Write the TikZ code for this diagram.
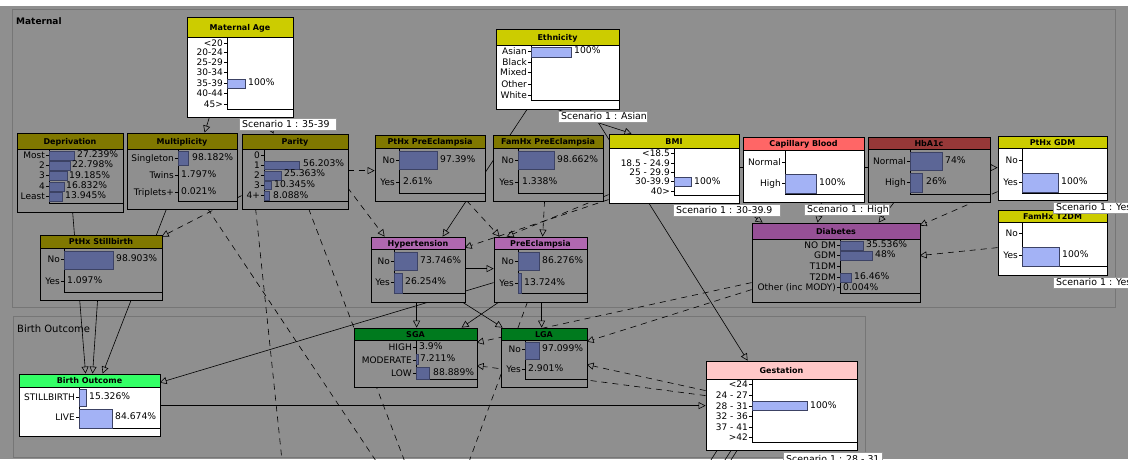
\documentclass[tikz,border=0pt]{standalone}
\usepackage{fontspec}
\setmainfont{DejaVu Sans}
\usetikzlibrary{arrows.meta,fit}
\definecolor{bg}{RGB}{143,143,143}
\definecolor{pnl}{RGB}{118,118,118}
\definecolor{cy}{RGB}{204,204,0}
\definecolor{col}{RGB}{128,120,0}
\definecolor{ccap}{RGB}{255,102,102}
\definecolor{chba}{RGB}{150,56,56}
\definecolor{cdia}{RGB}{150,80,150}
\definecolor{chyp}{RGB}{176,104,176}
\definecolor{cdg}{RGB}{0,122,30}
\definecolor{cbo}{RGB}{51,255,102}
\definecolor{cgest}{RGB}{255,200,200}
\definecolor{dbar}{RGB}{92,102,150}
\definecolor{lbar}{RGB}{163,178,245}
\definecolor{barln}{RGB}{60,66,100}
\newcounter{nn}
\pgfdeclarelayer{bglayer}
\pgfdeclarelayer{edgelayer}
\pgfsetlayers{bglayer,edgelayer,main}
% chart node: name, x1, y1, x2, y2, title bottom, title colour, body colour, title
\newcommand\bnchart[9]{%
  \node[fit={(#2,#3) (#4,#5)}, inner sep=0pt, draw=black, line width=0.8pt, fill=#8] (#1) {};
  \filldraw[fill=#7, draw=black, line width=0.8pt] (#2,#3) rectangle (#4,#6);
  \node[ttl] (#1-title) at ({(#2+#4)/2},{(#3+#6)/2+3}) {#9};}
\newcommand\bnaxis[4]{\draw[line width=0.8pt] (#1,#2) -- (#1,#3) -- (#4,#3);}
\newcommand\bnst[3]{\draw[line width=0.6pt] ({#1-3},#2) -- (#1,#2);%
  \stepcounter{nn}\node[stf] (s\thenn) at ({#1-4},{#2+3.2}) {#3};}
\newcommand\bnbar[5]{\filldraw[fill=#5, draw=barln, line width=0.5pt] (#1,#2) rectangle (#3,#4);}
\newcommand\bnpc[3]{\stepcounter{nn}\node[pcf] (p\thenn) at (#1,{#2+3.2}) {#3};}
\newcommand\bnscen[6]{%
  \node[fit={(#2,#3) (#4,#5)}, inner sep=0pt, draw=black!40, fill=white, line width=0.5pt] (#1) {};
  \node[scf] (#1-t) at ({#2+3},{(#3+#5)/2+3.3}) {#6};}
\newcommand\bnp[3]{([shift={(#2,#3)}]#1.north west)}
\begin{document}
\begin{tikzpicture}[x=1pt,y=-1pt,
  ttl/.style={font=\fontsize{8}{9}\selectfont\bfseries, inner sep=0pt, anchor=base},
  stf/.style={font=\fontsize{9}{10}\selectfont, inner sep=0pt, anchor=base east},
  pcf/.style={font=\fontsize{9.2}{10}\selectfont, inner sep=0pt, anchor=base west},
  scf/.style={font=\fontsize{9.4}{10}\selectfont, inner sep=0pt, anchor=base west},
  arr/.style={-{Triangle[open,length=7pt,width=7pt]}, line width=0.6pt, black},
  darr/.style={arr, dash pattern=on 6pt off 5pt},
  dln/.style={line width=0.6pt, dash pattern=on 6pt off 5pt},
  ln/.style={line width=0.6pt}]
\path[use as bounding box] (0,0) rectangle (1128,459);
\begin{pgfonlayer}{bglayer}
\fill[white] (0,0) rectangle (1128,459);
\fill[bg] (0,6) rectangle (1128,459);
\draw[pnl, line width=0.8pt] (12,9) rectangle (1115,307);
\draw[pnl, line width=0.8pt] (13,316) rectangle (865,457);
\end{pgfonlayer}
\node[anchor=base west, inner sep=0pt, font=\fontsize{9}{10}\selectfont\bfseries] (lblmat) at (16,24.5) {Maternal};
\node[anchor=base west, inner sep=0pt, font=\fontsize{10}{11}\selectfont] (lblbo) at (17,332) {Birth Outcome};

% Maternal Age
\bnchart{ma}{187}{17}{293}{117}{37}{cy}{white}{Maternal Age}
\bnaxis{227}{37}{109}{293}
\bnst{227}{43}{<20}\bnst{227}{52}{20-24}\bnst{227}{62}{25-29}\bnst{227}{72}{30-34}
\bnst{227}{83}{35-39}\bnst{227}{93}{40-44}\bnst{227}{104}{45>}
\bnbar{227}{79}{245}{88}{lbar}
\bnpc{248}{82}{100\%}

% Deprivation
\bnchart{dep}{17}{133}{123}{212}{149}{col}{bg}{Deprivation}
\bnaxis{49}{149}{203}{123}
\bnst{49}{155}{Most}\bnst{49}{165}{2}\bnst{49}{175}{3}\bnst{49}{186}{4}\bnst{49}{196}{Least}
\bnbar{49}{151}{74}{160}{dbar}\bnbar{49}{161}{70}{170}{dbar}\bnbar{49}{171}{67}{180}{dbar}
\bnbar{49}{182}{64}{191}{dbar}\bnbar{49}{192}{62}{201}{dbar}
\bnpc{77}{154}{27.239\%}\bnpc{72}{164}{22.798\%}\bnpc{69}{175}{19.185\%}
\bnpc{66}{185}{16.832\%}\bnpc{65}{195}{13.945\%}

% Multiplicity
\bnchart{mult}{127}{133}{237}{209}{149}{col}{bg}{Multiplicity}
\bnaxis{178}{149}{201}{237}
\bnst{178}{158}{Singleton}\bnst{178}{175}{Twins}\bnst{178}{192}{Triplets+}
\bnbar{178}{151}{188}{165}{dbar}
\bnpc{192}{157}{98.182\%}\bnpc{181}{174}{1.797\%}\bnpc{181}{191}{0.021\%}

% Parity
\bnchart{par}{242}{134}{348}{209}{149}{col}{bg}{Parity}
\bnaxis{264}{149}{201}{348}
\bnst{264}{155}{0}\bnst{264}{165}{1}\bnst{264}{175}{2}\bnst{264}{185}{3}\bnst{264}{195}{4+}
\bnbar{264}{161}{299}{169}{dbar}\bnbar{264}{171}{281}{180}{dbar}
\bnbar{264}{181}{271}{189}{dbar}\bnbar{264}{191}{269}{200}{dbar}
\bnpc{303}{163}{56.203\%}\bnpc{284}{173}{25.363\%}\bnpc{274}{184}{10.345\%}\bnpc{273}{195}{8.088\%}

% PtHx PreEclampsia
\bnchart{pthpe}{375}{135}{485}{201}{148}{col}{bg}{PtHx PreEclampsia}
\bnaxis{399}{148}{193}{485}
\bnst{399}{160}{No}\bnst{399}{182}{Yes}
\bnbar{399}{151}{437}{169}{dbar}
\bnpc{440}{159}{97.39\%}\bnpc{403}{181}{2.61\%}

% FamHx PreEclampsia
\bnchart{fhpe}{493}{135}{603}{201}{148}{col}{bg}{FamHx PreEclampsia}
\bnaxis{518}{148}{193}{603}
\bnst{518}{160}{No}\bnst{518}{182}{Yes}
\bnbar{518}{151}{554}{169}{dbar}
\bnpc{557}{159}{98.662\%}\bnpc{522}{181}{1.338\%}

% Ethnicity
\bnchart{eth}{496}{29}{619}{109}{45}{cy}{white}{Ethnicity}
\bnaxis{531}{45}{100}{619}
\bnst{531}{51}{Asian}\bnst{531}{62}{Black}\bnst{531}{72}{Mixed}\bnst{531}{84}{Other}\bnst{531}{95}{White}
\bnbar{531}{47}{571}{57}{lbar}
\bnpc{574}{50}{100\%}

% BMI
\bnchart{bmi}{609}{134}{739}{203}{148}{cy}{white}{BMI}
\bnaxis{674}{148}{195}{739}
\bnst{674}{153}{<18.5}\bnst{674}{163}{18.5 - 24.9}\bnst{674}{172}{25 - 29.9}
\bnst{674}{181}{30-39.9}\bnst{674}{191}{40>}
\bnbar{674}{177}{691}{186}{lbar}
\bnpc{694}{181}{100\%}

% Capillary Blood
\bnchart{cap}{743}{137}{864}{202}{150}{ccap}{white}{Capillary Blood}
\bnaxis{785}{150}{194}{864}
\bnst{785}{162}{Normal}\bnst{785}{183}{High}
\bnbar{785}{174}{816}{193}{lbar}
\bnpc{819}{182}{100\%}

% HbA1c
\bnchart{hba}{868}{137}{990}{202}{149}{chba}{bg}{HbA1c}
\bnaxis{910}{149}{194}{990}
\bnst{910}{161}{Normal}\bnst{910}{182}{High}
\bnbar{910}{152}{942}{170}{dbar}\bnbar{910}{173}{922}{192}{dbar}
\bnpc{945}{160}{74\%}\bnpc{926}{181}{26\%}

% PtHx GDM
\bnchart{ptgdm}{998}{136}{1107}{200}{148}{cy}{white}{PtHx GDM}
\bnaxis{1022}{148}{193}{1107}
\bnst{1022}{160}{No}\bnst{1022}{182}{Yes}
\bnbar{1022}{173}{1058}{192}{lbar}
\bnpc{1061}{181}{100\%}

% FamHx T2DM
\bnchart{fht2}{998}{210}{1107}{275}{222}{cy}{white}{FamHx T2DM}
\bnaxis{1022}{222}{266}{1107}
\bnst{1022}{233}{No}\bnst{1022}{255}{Yes}
\bnbar{1022}{247}{1059}{266}{lbar}
\bnpc{1062}{254}{100\%}

% Diabetes
\bnchart{diab}{752}{223}{920}{302}{239}{cdia}{bg}{Diabetes}
\bnaxis{840}{239}{293}{920}
\bnst{840}{245}{NO DM}\bnst{840}{255}{GDM}\bnst{840}{266}{T1DM}\bnst{840}{277}{T2DM}
\bnst{840}{287}{Other (inc MODY)}
\bnbar{840}{241}{863}{250}{dbar}\bnbar{840}{251}{872}{260}{dbar}\bnbar{840}{273}{851}{282}{dbar}
\bnpc{866}{244}{35.536\%}\bnpc{875}{254}{48\%}\bnpc{854}{276}{16.46\%}\bnpc{843}{287}{0.004\%}

% PtHx Stillbirth
\bnchart{ptsb}{40}{235}{162}{300}{248}{col}{bg}{PtHx Stillbirth}
\bnaxis{64}{248}{292}{162}
\bnst{64}{259}{No}\bnst{64}{281}{Yes}
\bnbar{64}{251}{113}{269}{dbar}
\bnpc{116}{258}{98.903\%}\bnpc{67}{280}{1.097\%}

% Birth Outcome
\bnchart{bo}{19}{374}{160}{436}{387}{cbo}{white}{Birth Outcome}
\bnaxis{79}{387}{428}{160}
\bnst{79}{397}{STILLBIRTH}\bnst{79}{417}{LIVE}
\bnbar{79}{389}{86}{406}{lbar}\bnbar{79}{409}{112}{428}{lbar}
\bnpc{89}{396}{15.326\%}\bnpc{115}{416}{84.674\%}

% Hypertension
\bnchart{hyp}{371}{237}{465}{302}{249}{chyp}{bg}{Hypertension}
\bnaxis{394}{249}{293}{465}
\bnst{394}{261}{No}\bnst{394}{282}{Yes}
\bnbar{394}{252}{417}{270}{dbar}\bnbar{394}{273}{402}{293}{dbar}
\bnpc{420}{260}{73.746\%}\bnpc{405}{281}{26.254\%}

% PreEclampsia
\bnchart{pe}{494}{237}{587}{302}{249}{chyp}{bg}{PreEclampsia}
\bnaxis{518}{249}{293}{587}
\bnst{518}{261}{No}\bnst{518}{283}{Yes}
\bnbar{518}{252}{539}{270}{dbar}\bnbar{518}{273}{521}{293}{dbar}
\bnpc{542}{260}{86.276\%}\bnpc{524}{282}{13.724\%}

% SGA
\bnchart{sga}{354}{328}{477}{387}{340}{cdg}{bg}{SGA}
\bnaxis{416}{340}{379}{477}
\bnst{416}{347}{HIGH}\bnst{416}{360}{MODERATE}\bnst{416}{373}{LOW}
\bnbar{416}{354}{418}{364}{dbar}\bnbar{416}{367}{429}{379}{dbar}
\bnpc{419}{346}{3.9\%}\bnpc{420}{358}{7.211\%}\bnpc{433}{372}{88.889\%}

% LGA
\bnchart{lga}{501}{328}{587}{387}{340}{cdg}{bg}{LGA}
\bnaxis{525}{340}{379}{587}
\bnst{525}{349}{No}\bnst{525}{369}{Yes}
\bnbar{525}{342}{539}{359}{dbar}
\bnpc{542}{348}{97.099\%}\bnpc{528}{368}{2.901\%}

% Gestation
\bnchart{gest}{706}{361}{857}{450}{379}{cgest}{white}{Gestation}
\bnaxis{752}{379}{442}{857}
\bnst{752}{384}{<24}\bnst{752}{395}{24 - 27}\bnst{752}{406}{28 - 31}
\bnst{752}{416}{32 - 36}\bnst{752}{427}{37 - 41}\bnst{752}{437}{>42}
\bnbar{752}{401}{807}{410}{lbar}
\bnpc{810}{405}{100\%}

% scenario labels
\bnscen{sc1}{239}{118}{336}{130}{Scenario 1 : 35-39}
\bnscen{sc2}{558}{111}{647}{122}{Scenario 1 : Asian}
\bnscen{sc3}{673}{204}{780}{216}{Scenario 1 : 30-39.9}
\bnscen{sc4}{804}{204}{889}{215}{Scenario 1 : High}
\bnscen{sc5}{1053}{202}{1140}{213}{Scenario 1 : Yes}
\bnscen{sc6}{1053}{277}{1140}{288}{Scenario 1 : Yes}
\bnscen{sc7}{783}{452}{882}{466}{Scenario 1 : 28 - 31}

% free ends below the picture
\coordinate (o1) at (382,470);
\coordinate (o2) at (283,470);
\coordinate (o3) at (408,470);
\coordinate (o4) at (466,470);
\coordinate (o5) at (709,463);
\coordinate (o6) at (723,463);
\coordinate (o7) at (729,463);

\begin{pgfonlayer}{edgelayer}
% solid
\draw[arr] \bnp{ma}{23}{100} -- \bnp{mult}{78}{0};
\draw[arr] \bnp{ma}{78}{100} -- \bnp{par}{32}{0};
\draw[arr] \bnp{eth}{32}{80} -- \bnp{hyp}{72}{0};
\draw[arr] \bnp{eth}{59}{80} -- \bnp{bmi}{23}{0};
\draw[arr] \bnp{eth}{94}{80} -- \bnp{gest}{42}{0};
\draw[arr] \bnp{bmi}{130}{34} -- \bnp{ptgdm}{0}{32};
\draw[arr] \bnp{bmi}{126}{69} -- \bnp{diab}{11}{0};
\draw[arr] \bnp{cap}{79}{65} -- \bnp{diab}{66}{0};
\draw[arr] \bnp{hba}{27}{65} -- \bnp{diab}{127}{0};
\draw[arr] \bnp{dep}{56}{79} -- \bnp{bo}{67}{0};
\draw[arr] \bnp{mult}{40}{76} -- \bnp{bo}{84}{0};
\draw[arr] \bnp{ptsb}{58}{65} -- \bnp{bo}{74}{0};
\draw[arr] \bnp{pe}{0}{46} -- \bnp{bo}{141}{9};
\draw[arr] \bnp{bo}{141}{32} -- \bnp{gest}{0}{45};
\draw[arr] \bnp{hyp}{94}{32} -- \bnp{pe}{0}{32};
\draw[arr] \bnp{hyp}{46}{65} -- \bnp{sga}{63}{0};
\draw[arr] \bnp{hyp}{91}{65} -- \bnp{lga}{2}{0};
\draw[arr] \bnp{pe}{6}{65} -- \bnp{sga}{108}{0};
\draw[arr] \bnp{pe}{48}{65} -- \bnp{lga}{41}{0};
% dashed
\draw[darr] \bnp{par}{106}{37} -- \bnp{pthpe}{0}{36};
\draw[darr] \bnp{par}{106}{54} -- \bnp{hyp}{14}{0};
\draw[darr] \bnp{par}{0}{62} -- \bnp{ptsb}{122}{2};
\draw[darr] \bnp{pthpe}{92}{66} -- \bnp{pe}{6}{0};
\draw[darr] \bnp{fhpe}{52}{66} -- \bnp{pe}{49}{0};
\draw[darr] \bnp{bmi}{0}{61} -- \bnp{pe}{13}{0};
\draw[darr] \bnp{bmi}{0}{66} -- \bnp{hyp}{94}{11};
\draw[darr] \bnp{ptgdm}{0}{56} -- \bnp{diab}{168}{3};
\draw[darr] \bnp{fht2}{0}{38} -- \bnp{diab}{168}{33};
\draw[darr] \bnp{diab}{0}{60} -- \bnp{sga}{123}{15};
\draw[darr] \bnp{diab}{0}{67} -- \bnp{lga}{86}{14};
\draw[darr] \bnp{gest}{0}{30} -- \bnp{lga}{86}{37};
\draw[darr] \bnp{gest}{0}{35} -- \bnp{sga}{123}{38};
\draw[dln] \bnp{mult}{81}{76} -- (o1);
\draw[dln] \bnp{par}{14}{75} -- (o2);
\draw[dln] \bnp{par}{67}{75} -- (o3);
\draw[dln] \bnp{pe}{34}{65} -- (o4);
\draw[ln] \bnp{gest}{12}{89} -- (o5);
\draw[ln] \bnp{gest}{26}{89} -- (o6);
\draw[ln] \bnp{gest}{32}{89} -- (o7);
\end{pgfonlayer}
\end{tikzpicture}
\end{document}
